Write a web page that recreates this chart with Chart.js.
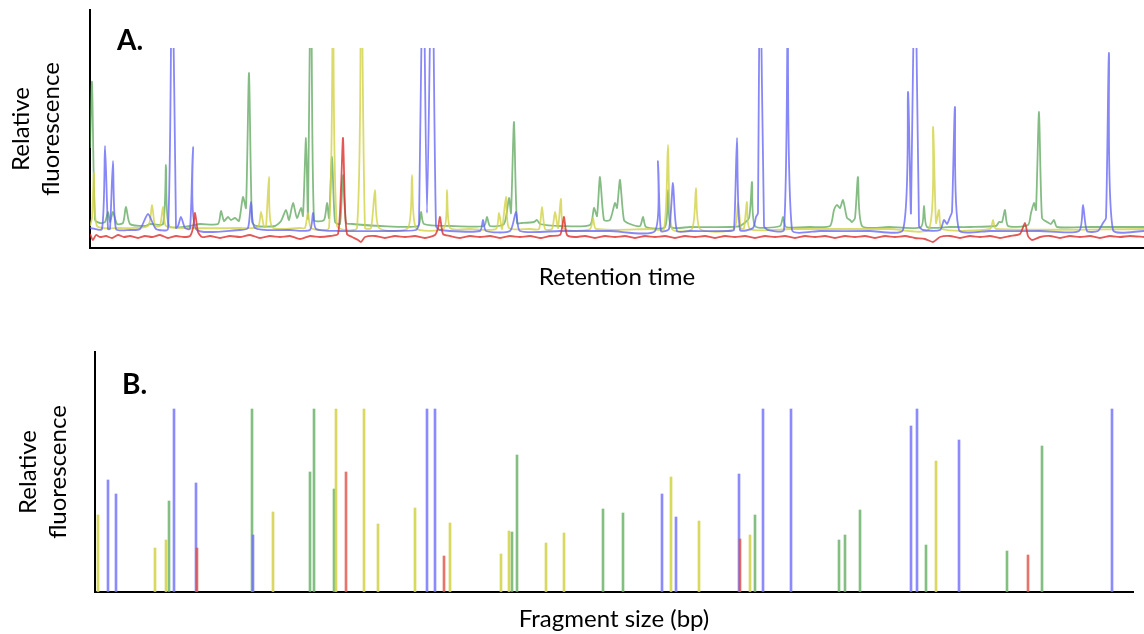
<!DOCTYPE html>
<html><head><meta charset="utf-8">
<script src="https://cdn.jsdelivr.net/npm/chart.js@4.4.0/dist/chart.umd.min.js"></script>
<style>
html,body{margin:0;padding:0;background:#fff;width:1144px;height:634px;overflow:hidden}
#a{position:absolute;left:0;top:0;width:1144px;height:300px}
#b{position:absolute;left:0;top:340px;width:1144px;height:294px}
</style></head><body>
<div id="a"><canvas id="ca"></canvas></div>
<div id="b"><canvas id="cb"></canvas></div>
<script>
// ---------- Panel A: electropherogram traces [retention time (scan), relative fluorescence] ----------
const blueTrace = [[0,20],[12,19],[15,102],[18,19],[20,19],[23,87],[26,19],[40,18],[50,19],[58,34],[66,19],[78,19],[82,320],[86,20],[88,22],[91,31],[95,20],[100,19],[103,101],[106,19],[150,18],[158,20],[161,46],[165,20],[200,18],[220,18],[223,35],[226,19],[250,17],[300,17],[326,18],[329,24],[333,320],[337,35],[342,320],[346,22],[350,18],[390,17],[393,28],[396,17],[420,17],[426,36],[430,17],[470,17],[520,17],[565,17],[568,87],[571,17],[579,19],[583,65],[587,17],[600,17],[640,17],[644,18],[647,110],[650,18],[663,20],[666,31],[668,35],[670,320],[674,22],[678,18],[694,18],[698,320],[702,18],[730,17],[780,17],[813,18],[818,156],[821,35],[825,320],[829,22],[833,18],[850,18],[854,28],[857,24],[860,31],[862,36],[865,141],[869,18],[900,17],[950,17],[989,17],[993,43],[997,17],[1008,17],[1013,25],[1016,30],[1019,195],[1023,18],[1054,17]];
const greenTrace = [[0,100],[2,166],[5,28],[10,25],[15,26],[18,36],[20,26],[23,36],[27,24],[33,25],[36,41],[40,24],[55,22],[60,24],[73,24],[76,83],[79,22],[100,22],[110,24],[128,24],[131,37],[134,27],[138,31],[141,28],[145,30],[149,27],[153,51],[156,40],[159,175],[162,26],[166,22],[185,22],[191,27],[196,38],[199,28],[203,45],[207,30],[211,40],[213,32],[216,110],[218,30],[221,320],[224,28],[234,28],[237,45],[239,30],[242,91],[245,26],[250,24],[253,73],[256,25],[262,24],[290,22],[328,22],[331,36],[334,24],[360,22],[394,22],[397,31],[400,22],[414,24],[419,50],[421,35],[424,126],[427,25],[432,25],[444,26],[447,28],[450,24],[470,22],[500,23],[504,40],[507,32],[510,71],[514,28],[520,28],[525,45],[527,40],[530,68],[534,28],[540,24],[550,22],[553,31],[556,21],[575,21],[578,58],[581,21],[600,21],[640,21],[650,22],[659,30],[662,66],[665,22],[690,22],[693,31],[696,21],[720,21],[740,22],[744,38],[747,43],[750,40],[753,48],[757,30],[760,28],[762,26],[765,30],[768,71],[772,22],[800,21],[831,21],[834,42],[837,21],[860,21],[880,21],[906,22],[909,26],[912,26],[915,38],[918,22],[938,23],[941,35],[944,45],[946,38],[949,136],[952,30],[957,26],[961,24],[964,28],[967,21],[1000,21],[1054,21]];
const yellowTrace = [[0,22],[2,30],[4,75],[7,22],[30,20],[58,22],[62,43],[65,22],[70,22],[73,41],[76,22],[100,20],[150,20],[168,21],[171,36],[174,21],[176,21],[179,71],[182,21],[210,20],[215,20],[218,35],[221,20],[239,20],[243,320],[247,22],[267,20],[271,320],[275,20],[281,20],[285,58],[289,20],[318,20],[322,73],[326,20],[354,20],[357,58],[360,20],[380,19],[406,19],[409,35],[412,19],[416,51],[419,20],[440,19],[449,19],[452,41],[455,19],[462,19],[465,36],[468,20],[471,49],[474,19],[500,19],[503,30],[506,19],[560,19],[574,19],[578,103],[582,19],[602,19],[606,60],[610,19],[644,19],[648,45],[651,19],[654,20],[657,46],[660,19],[700,19],[800,19],[839,19],[843,121],[846,25],[849,38],[852,19],[900,19],[903,28],[906,19],[1054,19]];
const redTrace = [[0,14],[3,8],[6,13],[10,11],[16,12],[22,10],[28,13],[34,11],[40,12],[48,10],[55,12],[62,11],[70,13],[78,10],[86,12],[94,11],[100,12],[103,20],[105,35],[108,16],[112,11],[120,12],[130,10],[140,12],[150,11],[160,13],[170,10],[180,12],[190,11],[200,12],[210,9],[220,12],[230,11],[240,12],[248,14],[251,60],[253,110],[255,40],[257,14],[262,11],[268,8],[271,6],[275,11],[285,12],[295,10],[305,12],[315,11],[325,12],[335,10],[345,13],[348,20],[350,31],[353,14],[360,12],[370,10],[380,12],[390,11],[400,12],[410,10],[420,12],[430,11],[440,12],[450,10],[460,12],[470,13],[472,20],[474,31],[477,13],[485,11],[495,12],[505,10],[515,12],[525,11],[535,12],[545,10],[555,12],[565,11],[575,12],[585,10],[595,12],[605,11],[615,12],[625,10],[635,12],[645,11],[655,12],[665,10],[675,12],[685,11],[695,12],[705,10],[715,12],[725,11],[735,12],[745,10],[755,12],[765,11],[775,12],[785,10],[795,12],[805,11],[815,12],[825,10],[835,9],[843,6],[850,11],[860,12],[870,10],[880,12],[890,11],[900,12],[910,10],[920,12],[930,14],[935,25],[938,12],[942,8],[950,11],[960,12],[970,10],[980,12],[990,11],[1000,12],[1010,10],[1020,12],[1030,11],[1040,12],[1054,11]];

// ---------- Panel B: fragment sticks [fragment size, relative fluorescence] ----------
const blueSticks = [[13,112],[21,98],[79,183],[101,109],[158,57],[332,183],[340,183],[567,98],[581,75],[644,118],[668,183],[696,183],[816,166],[822,183],[864,152],[1017,183]];
const greenSticks = [[74,91],[157,183],[215,120],[219,183],[239,103],[417,60],[422,137],[508,83],[528,79],[660,77],[744,52],[750,57],[765,82],[831,47],[912,41],[947,146]];
const yellowSticks = [[3,77],[60,44],[71,52],[178,80],[241,183],[269,183],[283,68],[320,84],[355,69],[406,38],[414,61],[451,49],[469,59],[576,115],[604,71],[655,57],[841,131]];
const redSticks = [[102,44],[251,120],[349,36],[645,53],[933,37]];

const titleA = 'Retention time';
const titleB = 'Fragment size (bp)';
const yTitle = ['Relative', 'fluorescence'];

const FONT = 'Lato, "Open Sans", sans-serif';
const toXY = arr => arr.map(p => ({x: p[0], y: p[1]}));

function panelLabel(text, x, y) {
  return {
    id: 'label' + text,
    afterDraw(chart) {
      const ctx = chart.ctx;
      ctx.save();
      ctx.fillStyle = '#000';
      ctx.font = 'bold 28px ' + FONT;
      ctx.textBaseline = 'alphabetic';
      ctx.fillText(text, x, y);
      ctx.restore();
    }
  };
}

function axes(xmax, ymax, xTitle, xH, xPadB, yW, yPadT) {
  const border = {display: true, color: '#000', width: 2};
  return {
    x: {type: 'linear', min: 0, max: xmax, offset: false, grid: {display: false, drawTicks: false, offset: false}, ticks: {display: false}, border,
        title: {display: true, text: xTitle, color: '#000', font: {family: FONT, size: 24}, padding: {top: 0, bottom: xPadB}},
        afterFit: s => { s.height = xH; }},
    y: {type: 'linear', min: 0, max: ymax, grid: {display: false, drawTicks: false}, ticks: {display: false}, border,
        title: {display: true, text: yTitle, color: '#000', font: {family: FONT, size: 24, lineHeight: 1.25}, padding: {top: yPadT, bottom: 0}},
        afterFit: s => { s.width = yW; }}
  };
}

const lineDs = (data, color) => ({
  data: toXY(data), borderColor: color, borderWidth: 1.8, pointRadius: 0, fill: false,
  tension: 0.22, clip: {left: 0, top: -38, right: 0, bottom: 0}
});

new Chart(document.getElementById('ca'), {
  type: 'line',
  data: {datasets: [
    lineDs(redTrace, 'rgba(220,45,45,0.8)'),
    lineDs(blueTrace, 'rgba(95,95,245,0.75)'),
    lineDs(yellowTrace, 'rgba(210,210,70,0.8)'),
    lineDs(greenTrace, 'rgba(80,160,80,0.7)')
  ]},
  options: {
    responsive: true, maintainAspectRatio: false, animation: false,
    layout: {padding: {top: 10, left: 0, right: 0, bottom: 0}},
    plugins: {legend: {display: false}, tooltip: {enabled: false}},
    scales: axes(1054, 238, titleA, 52, 8, 90, 6)
  },
  plugins: [panelLabel('A.', 117, 50)]
});

const barDs = (data, color) => ({
  data: toXY(data), backgroundColor: color, borderWidth: 0, barThickness: 2, grouped: false
});

new Chart(document.getElementById('cb'), {
  type: 'bar',
  data: {datasets: [
    barDs(redSticks, 'rgba(225,80,70,0.8)'),
    barDs(blueSticks, 'rgba(110,110,250,0.8)'),
    barDs(yellowSticks, 'rgba(210,210,70,0.85)'),
    barDs(greenSticks, 'rgba(100,175,100,0.8)')
  ]},
  options: {
    responsive: true, maintainAspectRatio: false, animation: false,
    layout: {padding: {top: 12, left: 0, right: 11, bottom: 0}},
    plugins: {legend: {display: false}, tooltip: {enabled: false}},
    scales: axes(1038, 240, titleB, 42, 0, 95, 13)
  },
  plugins: [panelLabel('B.', 122, 54)]
});
</script>
</body></html>
